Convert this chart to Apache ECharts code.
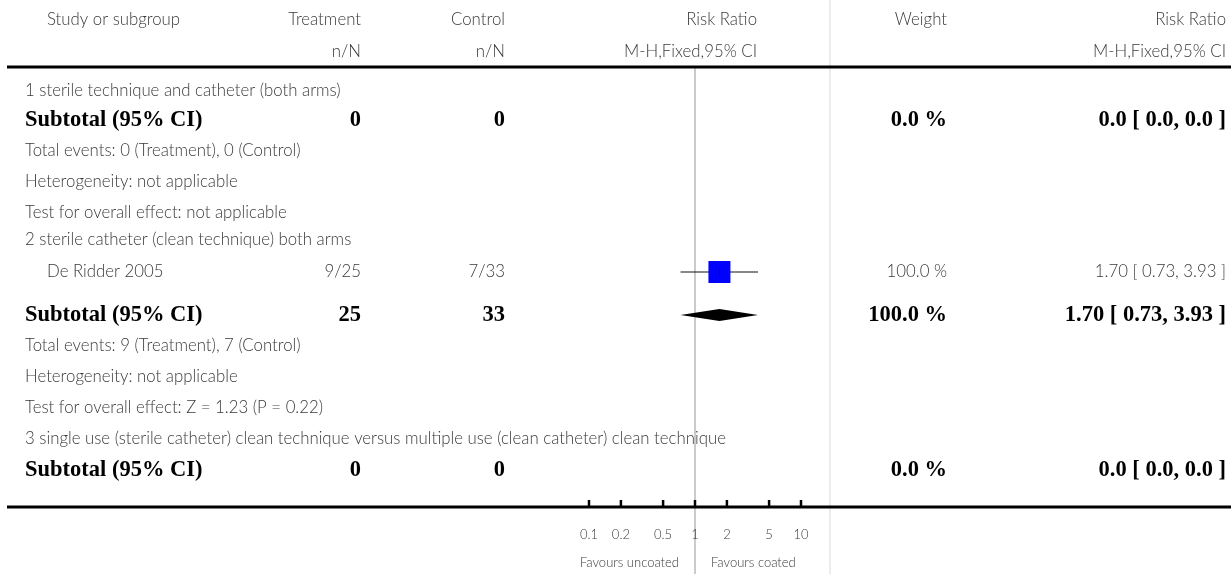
<!DOCTYPE html>
<html>
<head>
<meta charset="utf-8">
<script src="https://cdn.jsdelivr.net/npm/echarts@6/dist/echarts.min.js"></script>
<style>html,body{margin:0;padding:0;background:#fff}#c{width:1231px;height:574px}</style>
</head>
<body>
<div id="c"></div>
<script>
// ---------------- DATA ----------------
const headerTop = ['Study or subgroup', 'Treatment', 'Control', 'Risk Ratio', 'Weight', 'Risk Ratio'];
const headerSub = ['', 'n/N', 'n/N', 'M-H,Fixed,95% CI', '', 'M-H,Fixed,95% CI'];

const rowLabels = [
  '1 sterile technique and catheter (both arms)',
  'Subtotal (95% CI)',
  'Total events: 0 (Treatment), 0 (Control)',
  'Heterogeneity: not applicable',
  'Test for overall effect: not applicable',
  '2 sterile catheter (clean technique) both arms',
  'De Ridder 2005',
  'Subtotal (95% CI)',
  'Total events: 9 (Treatment), 7 (Control)',
  'Heterogeneity: not applicable',
  'Test for overall effect: Z = 1.23 (P = 0.22)',
  '3 single use (sterile catheter) clean technique versus multiple use (clean catheter) clean technique',
  'Subtotal (95% CI)'
];
const rowKind = ['group','subtotal','note','note','note','group','study','subtotal','note','note','note','group','subtotal'];
const treatment = ['', '0', '', '', '', '', '9/25', '25', '', '', '', '', '0'];
const control   = ['', '0', '', '', '', '', '7/33', '33', '', '', '', '', '0'];
const weightTxt = ['', '0.0 %', '', '', '', '', '100.0 %', '100.0 %', '', '', '', '', '0.0 %'];
const rrTxt     = ['', '0.0 [ 0.0, 0.0 ]', '', '', '', '', '1.70 [ 0.73, 3.93 ]', '1.70 [ 0.73, 3.93 ]', '', '', '', '', '0.0 [ 0.0, 0.0 ]'];

// estimates: [row index, RR, lower, upper, weight %]
const studies   = [[6, 1.70, 0.73, 3.93, 100.0]];
const subtotals = [[7, 1.70, 0.73, 3.93]];

const tickValues = [0.1, 0.2, 0.5, 1, 2, 5, 10];
const tickLabels = ['0.1', '0.2', '0.5', '1', '2', '5', '10'];
const favours = ['Favours uncoated', 'Favours coated'];

// ---------------- LAYOUT ----------------
const W = 1231, H = 574;
const axisY = 507;              // y-value of the bottom rule / axis
const headY = [20, 52];
const rowY = [91, 120, 151, 182, 213, 240, 272, 315, 346, 377, 408, 439, 470];
const colX = { label: 25, indent: 47, head: 47, treat: 361, ctrl: 505, rr: 757, weight: 947, rrTxt: 1226 };
const tickLblY = 535, favY = 563;

const SANS = 'Lato, "Noto Sans", sans-serif';
const SERIF = '"Liberation Serif", "DejaVu Serif", serif';
const GREY = '#3a3a3a';
const regFont = 16.8, boldFont = 22.5, axisFont = 13;

function txt(x, y, s, align, bold, size) {
  return {
    type: 'text', x: x, y: y,
    style: {
      text: s, textAlign: align, textVerticalAlign: 'middle',
      font: bold ? ('bold ' + boldFont + 'px ' + SERIF) : ('300 ' + (size || regFont) + 'px ' + SANS),
      fill: bold ? '#000' : GREY
    }
  };
}

const chart = echarts.init(document.getElementById('c'), null, { renderer: 'canvas' });

const option = {
  animation: false,
  backgroundColor: '#fff',
  grid: { left: 589, right: W - 801, top: 0, height: axisY },
  xAxis: { type: 'log', logBase: 10, min: 0.1, max: 10, show: false },
  yAxis: { type: 'value', min: 0, max: axisY, inverse: true, show: false },
  graphic: [
    { type: 'line', shape: { x1: 830, y1: 0, x2: 830, y2: H }, style: { stroke: '#e6e6e6', lineWidth: 1.5 }, z: 0 },
    { type: 'line', shape: { x1: 7, y1: 67, x2: W, y2: 67 }, style: { stroke: '#000', lineWidth: 3 }, z: 10 },
    { type: 'line', shape: { x1: 7, y1: axisY, x2: W, y2: axisY }, style: { stroke: '#000', lineWidth: 3 }, z: 10 }
  ],
  series: [
    { // null line
      type: 'custom', clip: false, z: 1,
      data: [[1]],
      renderItem: function (params, api) {
        const a = api.coord([api.value(0), 67]);
        const b = api.coord([api.value(0), H]);
        return { type: 'line', shape: { x1: a[0], y1: a[1], x2: b[0], y2: b[1] }, style: { stroke: '#a8a8a8', lineWidth: 1.2 } };
      }
    },
    { // headers
      type: 'custom', clip: false, z: 5,
      data: [[0], [1]],
      renderItem: function (params, api) {
        const i = params.dataIndex;
        const arr = i === 0 ? headerTop : headerSub;
        const y = api.coord([1, headY[i]])[1];
        const xs = [colX.head, colX.treat, colX.ctrl, colX.rr, colX.weight, colX.rrTxt];
        const al = ['left', 'right', 'right', 'right', 'right', 'right'];
        return { type: 'group', children: arr.map((s, k) => txt(xs[k], y, s, al[k], false)) };
      }
    },
    { // table rows
      type: 'custom', clip: false, z: 5,
      data: rowLabels.map((_, i) => [i]),
      renderItem: function (params, api) {
        const i = params.dataIndex;
        const y = api.coord([1, rowY[i]])[1];
        const kind = rowKind[i];
        const bold = kind === 'subtotal';
        const ch = [txt(kind === 'study' ? colX.indent : colX.label, y, rowLabels[i], 'left', bold)];
        if (treatment[i]) ch.push(txt(colX.treat, y, treatment[i], 'right', bold));
        if (control[i]) ch.push(txt(colX.ctrl, y, control[i], 'right', bold));
        if (weightTxt[i]) ch.push(txt(colX.weight, y, weightTxt[i], 'right', bold));
        if (rrTxt[i]) ch.push(txt(colX.rrTxt, y, rrTxt[i], 'right', bold));
        return { type: 'group', children: ch };
      }
    },
    { // study CI + box
      type: 'custom', clip: false, z: 6,
      data: studies,
      renderItem: function (params, api) {
        const yv = rowY[api.value(0)];
        const c = api.coord([api.value(1), yv]);
        const lo = api.coord([api.value(2), yv]);
        const hi = api.coord([api.value(3), yv]);
        const s = 22 * Math.sqrt(api.value(4) / 100);
        return { type: 'group', children: [
          { type: 'line', shape: { x1: lo[0], y1: lo[1], x2: hi[0], y2: hi[1] }, style: { stroke: '#111', lineWidth: 1.2 } },
          { type: 'rect', shape: { x: c[0] - s / 2, y: c[1] - s / 2, width: s, height: s }, style: { fill: '#0000ff' } },
          { type: 'line', shape: { x1: c[0], y1: c[1] - 4, x2: c[0], y2: c[1] + 4 }, style: { stroke: '#111', lineWidth: 1 } }
        ] };
      }
    },
    { // subtotal diamond
      type: 'custom', clip: false, z: 6,
      data: subtotals,
      renderItem: function (params, api) {
        const yv = rowY[api.value(0)];
        const c = api.coord([api.value(1), yv]);
        const lo = api.coord([api.value(2), yv]);
        const hi = api.coord([api.value(3), yv]);
        const h = 6;
        return { type: 'polygon', shape: { points: [[lo[0], c[1]], [c[0], c[1] - h], [hi[0], c[1]], [c[0], c[1] + h]] }, style: { fill: '#000' } };
      }
    },
    { // axis ticks and labels
      type: 'custom', clip: false, z: 11,
      data: tickValues.map((v, i) => [v, i]),
      renderItem: function (params, api) {
        const p = api.coord([api.value(0), axisY]);
        const ly = api.coord([api.value(0), tickLblY])[1];
        return { type: 'group', children: [
          { type: 'line', shape: { x1: p[0], y1: p[1] - 7, x2: p[0], y2: p[1] }, style: { stroke: '#000', lineWidth: 2.5 } },
          txt(p[0], ly, tickLabels[api.value(1)], 'center', false, axisFont)
        ] };
      }
    },
    { // favours labels
      type: 'custom', clip: false, z: 11,
      data: [[1]],
      renderItem: function (params, api) {
        const p = api.coord([api.value(0), favY]);
        return { type: 'group', children: [
          txt(p[0] - 16, p[1], favours[0], 'right', false, axisFont),
          txt(p[0] + 16, p[1], favours[1], 'left', false, axisFont)
        ] };
      }
    }
  ]
};
chart.setOption(option);
</script>
</body>
</html>
